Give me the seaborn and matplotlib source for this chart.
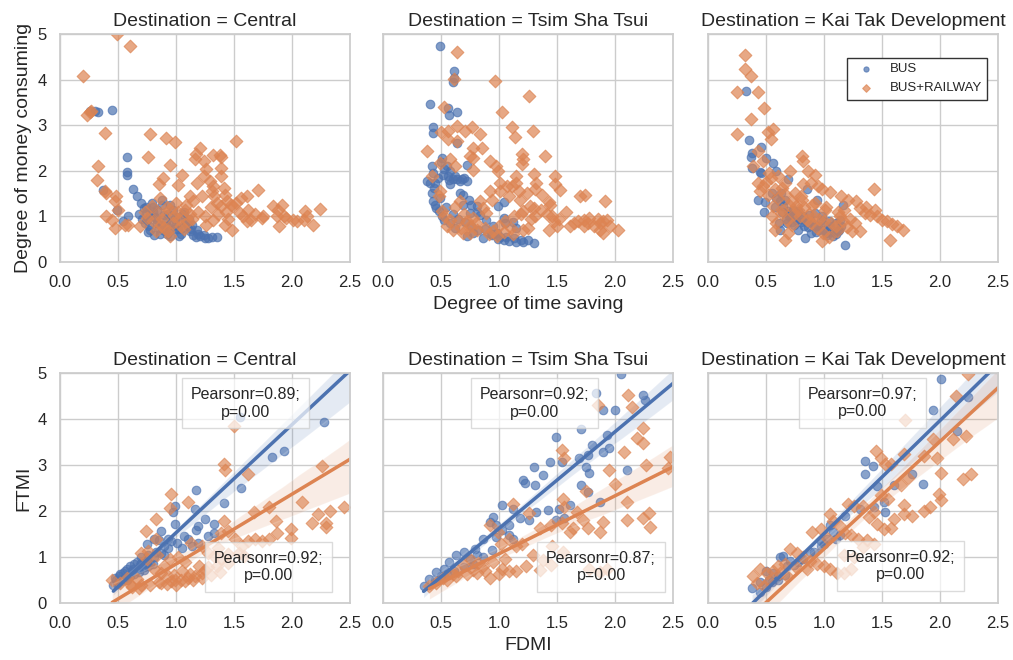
import numpy as np
import pandas as pd
import matplotlib.pyplot as plt
import seaborn as sns

sns.set_theme(style="whitegrid")
plt.rcParams['font.family'] = ['Liberation Sans', 'DejaVu Sans']

destinations = ["Central", "Tsim Sha Tsui", "Kai Tak Development"]
modes = ["BUS", "BUS+RAILWAY"]
pearson_labels = [["Pearsonr=0.89;\np=0.00", "Pearsonr=0.92;\np=0.00"],
                  ["Pearsonr=0.92;\np=0.00", "Pearsonr=0.87;\np=0.00"],
                  ["Pearsonr=0.97;\np=0.00", "Pearsonr=0.92;\np=0.00"]]

# ---- top row: degree of time saving (x) vs degree of money consuming (y)
central_bus_time = [0.26, 0.30, 0.33, 0.445, 0.58, 0.58, 0.58, 0.37, 0.63, 0.66, 0.59, 0.546, 0.49,
                    0.70, 0.72, 0.74, 0.75, 0.77, 0.78, 0.80, 0.82, 0.84, 0.85, 0.86, 0.88, 0.90, 0.91,
                    0.92, 0.94, 0.95, 0.97, 0.99, 1.00, 1.02, 1.04, 1.06, 1.08, 1.10, 1.12, 1.15, 1.17,
                    1.21, 1.25, 1.28, 1.31, 1.35, 1.19, 1.24, 0.88, 0.80, 0.68, 0.73,
                    0.74, 0.78, 0.83, 0.87, 0.93, 0.96, 1.01, 1.05, 1.09, 1.13, 0.76, 0.81, 0.89, 0.98,
                    1.03, 0.71, 0.84, 0.92, 1.07, 1.11, 1.14, 1.18, 0.79, 0.95]
central_bus_money = [3.31, 3.31, 3.29, 3.34, 2.31, 1.97, 1.90, 1.58, 1.61, 1.45, 1.0, 0.9, 1.15,
                     1.30, 1.18, 1.05, 0.92, 0.80, 0.70, 1.10, 0.98, 0.86, 0.75, 0.62, 1.25, 1.02, 0.90,
                     0.78, 0.68, 0.58, 1.15, 0.95, 0.82, 0.72, 0.62, 1.05, 0.90, 0.78, 0.68, 0.60, 0.55,
                     0.56, 0.52, 0.53, 0.54, 0.55, 0.62, 0.60, 1.35, 1.20, 1.05, 0.85,
                     1.20, 1.02, 0.95, 0.82, 1.05, 0.88, 0.98, 0.75, 0.85, 0.72, 0.65, 0.60, 0.70, 0.72,
                     0.58, 0.95, 1.15, 0.62, 1.10, 0.95, 0.82, 0.70, 1.30, 1.25]
central_rail_time = [0.49, 0.60, 0.195, 0.23, 0.26, 0.27, 0.39, 0.33, 0.32, 0.39, 0.40, 0.48, 0.47, 0.50,
                     0.40, 0.45, 0.47, 0.56, 0.59, 0.78, 0.91, 0.99, 0.76, 0.95, 1.21, 1.17, 1.16, 1.32,
                     1.38, 1.39, 1.52, 1.24, 1.26, 1.24, 1.39, 1.39, 1.05, 0.885, 0.85, 1.02, 1.18, 1.29,
                     1.32, 1.31, 1.41, 1.42, 1.44, 1.47, 1.61, 1.71, 1.12, 1.15, 1.09, 1.22, 1.35, 1.39,
                     1.49, 1.55, 1.58, 1.65, 1.61, 1.75, 1.74, 1.84, 1.88, 1.91, 1.87, 1.93, 1.95, 1.89,
                     2.01, 2.04, 2.10, 2.13, 2.11, 2.18, 2.24, 1.48, 1.42, 1.26, 1.32, 0.95, 0.93, 0.83,
                     0.69, 0.75, 0.79, 0.86, 0.92, 0.98, 1.04, 1.10, 1.02, 0.88, 1.00, 1.08,
                     0.80, 0.85, 0.90, 0.97, 1.03, 1.07, 1.12, 0.73, 0.87, 0.94, 1.14, 1.19, 1.25, 1.30,
                     1.36, 1.43, 1.52, 1.56, 1.62, 1.68, 1.45, 1.33]
central_rail_money = [5.0, 4.73, 4.07, 3.22, 3.28, 3.31, 2.82, 2.11, 1.80, 1.56, 1.52, 1.45, 1.34, 1.15,
                      1.0, 0.93, 0.75, 0.82, 0.82, 2.80, 2.73, 2.63, 2.30, 2.13, 2.51, 2.36, 2.25, 2.34,
                      2.34, 2.31, 2.66, 2.22, 2.03, 1.89, 2.07, 1.89, 1.90, 1.85, 1.72, 1.69, 1.74, 1.78,
                      1.67, 1.56, 1.63, 1.48, 1.34, 1.26, 1.45, 1.58, 1.45, 1.34, 1.26, 1.45, 1.30, 1.23,
                      1.23, 1.08, 1.0, 0.93, 0.90, 1.0, 0.97, 1.23, 1.15, 1.26, 1.0, 1.0, 0.97, 0.79,
                      0.93, 0.90, 0.93, 1.0, 1.12, 0.82, 1.17, 0.71, 0.82, 0.82, 0.93, 0.56, 0.67, 0.67,
                      0.79, 0.97, 1.23, 1.40, 1.20, 1.00, 0.80, 0.90, 1.10, 0.95, 1.30, 1.15,
                      0.90, 1.08, 0.75, 0.85, 0.95, 0.72, 1.05, 1.10, 0.82, 1.15, 0.95, 1.10, 1.00, 1.20,
                      1.05, 1.10, 1.30, 1.40, 1.15, 1.05, 0.95, 1.45]

tst_bus_time = [0.49, 0.61, 0.60, 0.61, 0.405, 0.56, 0.57, 0.64, 0.43, 0.43, 0.64, 0.51, 0.50, 0.42, 0.43,
                0.55, 0.58, 0.56, 0.60, 0.64, 0.68, 0.72, 0.72, 0.38, 0.405, 0.45, 0.42, 0.43, 0.45, 0.46,
                0.48, 0.51, 0.53, 0.58, 0.62, 0.66, 0.69, 0.74, 0.76, 0.81, 0.84, 0.89, 0.95, 0.98, 1.01,
                1.04, 1.09, 1.15, 1.21, 1.25, 1.30, 1.04, 1.05, 1.12, 1.15, 0.72, 0.78, 0.86, 0.94, 0.69,
                0.75, 0.81, 1.04, 0.99,
                0.47, 0.52, 0.57, 0.62, 0.66, 0.70, 0.44, 0.49, 0.54, 0.60, 0.65, 0.71, 0.76, 0.82,
                0.88, 0.93, 0.99, 1.06, 1.13, 1.19, 0.53, 0.58]
tst_bus_money = [4.74, 4.19, 3.95, 4.03, 3.46, 3.37, 3.22, 3.29, 2.95, 2.82, 2.60, 2.29, 2.19, 2.11, 1.95,
                 2.11, 2.0, 1.89, 1.83, 1.82, 1.83, 2.12, 1.78, 1.78, 1.74, 1.74, 1.52, 1.34, 1.26, 1.19,
                 1.12, 1.0, 0.93, 0.85, 0.75, 1.52, 1.48, 1.37, 1.26, 1.10, 1.04, 0.93, 0.79, 0.64, 0.55,
                 0.49, 0.46, 0.44, 0.44, 0.49, 0.41, 0.97, 0.86, 0.88, 0.75, 0.57, 0.64, 0.53, 0.60, 1.26,
                 1.08, 1.23, 1.31, 1.23,
                 1.85, 1.90, 1.80, 1.88, 1.78, 1.85, 1.62, 1.40, 1.20, 1.05, 0.95, 0.88, 0.80, 0.70,
                 0.72, 0.62, 0.50, 0.55, 0.52, 0.48, 2.05, 1.72]
tst_rail_time = [0.635, 0.61, 0.965, 1.26, 0.53, 1.03, 1.11, 1.29, 1.14, 0.50, 0.56, 0.64, 0.71, 0.77,
                 0.84, 0.56, 0.64, 0.38, 0.78, 0.85, 0.75, 0.78, 1.20, 1.21, 1.20, 1.40, 0.92, 0.97, 0.99,
                 0.78, 0.49, 0.58, 0.62, 1.15, 1.30, 1.48, 1.01, 1.07, 1.11, 1.15, 1.32, 1.31, 1.48, 1.53,
                 0.92, 1.01, 1.09, 1.18, 1.24, 1.17, 1.37, 1.43, 1.44, 1.70, 1.74, 1.91, 1.30, 1.31, 1.46,
                 1.47, 1.50, 1.43, 1.61, 1.68, 1.73, 1.77, 1.78, 1.73, 1.87, 1.90, 1.93, 1.87, 1.90, 1.96,
                 2.03, 1.27, 1.21, 0.84, 0.86, 0.89, 0.78, 0.75, 0.81, 0.75, 0.69, 0.98, 0.91, 1.04, 1.10,
                 1.12, 1.21, 1.25, 0.49, 0.48, 0.51, 0.53, 0.58, 0.65, 0.66, 0.42,
                 0.55, 0.60, 0.67, 0.72, 0.80, 0.88, 0.95, 1.00, 1.05, 1.13, 1.19, 1.28, 1.36, 1.41,
                 1.52, 1.58, 1.65, 1.82, 1.85, 0.70, 0.62, 0.94]
tst_rail_money = [4.60, 4.01, 3.96, 3.63, 3.39, 3.28, 2.95, 2.88, 2.75, 2.84, 2.88, 2.99, 2.88, 2.95,
                  2.80, 2.69, 2.66, 2.44, 2.51, 2.51, 2.33, 2.29, 2.36, 2.25, 2.14, 2.33, 2.22, 2.11, 2.0,
                  2.02, 2.18, 2.25, 2.11, 1.89, 1.92, 1.89, 1.74, 1.67, 1.67, 1.74, 1.74, 1.59, 1.70, 1.58,
                  1.56, 1.56, 1.45, 1.37, 1.52, 1.56, 1.48, 1.31, 1.26, 1.45, 1.48, 1.34, 1.19, 1.0, 1.0,
                  0.9, 0.79, 0.71, 0.80, 0.90, 0.93, 0.86, 0.97, 0.79, 0.86, 0.90, 0.93, 0.71, 0.64, 0.79,
                  0.71, 1.23, 1.12, 1.34, 1.19, 1.08, 0.97, 0.79, 0.71, 0.64, 0.64, 0.58, 0.62, 0.66, 0.75,
                  0.62, 0.70, 0.75, 1.56, 1.45, 1.12, 1.0, 0.93, 0.90, 1.34, 1.89,
                  0.80, 0.70, 0.75, 0.90, 0.85, 0.75, 0.68, 0.80, 0.90, 1.00, 1.05, 0.95, 1.15, 1.05,
                  0.95, 1.10, 0.85, 0.80, 0.95, 1.05, 1.20, 1.35]

kt_bus_time = [0.33, 0.35, 0.375, 0.37, 0.46, 0.50, 0.375, 0.45, 0.46, 0.56, 0.59, 0.69, 0.43, 0.49, 0.48,
               0.65, 0.69, 0.73, 0.78, 0.76, 0.82, 0.88, 0.92, 0.89, 0.78, 0.84, 0.85, 0.94, 1.02, 1.08,
               1.12, 1.15, 1.16, 1.14, 1.18, 0.62, 0.68, 0.61, 0.92, 0.98, 1.00, 1.04, 1.05, 1.10, 0.55,
               0.59, 0.62, 0.66, 0.63, 0.70, 0.74, 0.80, 0.96, 1.06, 0.86,
               0.64, 0.70, 0.75, 0.80, 0.85, 0.90, 0.95, 1.00, 1.05, 1.10, 0.67, 0.72, 0.83, 0.93,
               1.03, 1.13, 0.58, 0.77, 0.87, 0.97]
kt_bus_money = [3.75, 2.68, 2.40, 2.31, 2.53, 2.29, 2.07, 1.97, 1.96, 2.18, 2.0, 1.83, 1.37, 1.31, 1.10,
                1.23, 1.12, 1.15, 1.12, 0.93, 1.0, 0.93, 0.79, 0.64, 0.71, 0.53, 1.59, 1.37, 0.64, 0.58,
                0.67, 0.79, 1.26, 0.93, 0.38, 0.71, 0.85, 0.85, 1.08, 1.00, 0.82, 0.90, 0.78, 0.85, 1.52,
                1.41, 1.34, 1.37, 1.52, 1.00, 0.82, 0.88, 0.70, 0.66, 0.76,
                1.10, 1.05, 0.98, 0.95, 0.88, 0.85, 0.78, 0.70, 0.72, 0.62, 0.95, 0.88, 0.78, 0.65,
                0.60, 0.70, 1.20, 1.08, 1.02, 0.92]
kt_rail_time = [0.32, 0.32, 0.37, 0.25, 0.43, 0.48, 0.37, 0.25, 0.52, 0.56, 0.54, 0.43, 0.475, 0.39, 0.81,
                0.82, 0.71, 0.86, 0.92, 0.53, 0.605, 0.66, 0.635, 0.43, 0.45, 0.52, 0.475, 0.82, 0.89, 0.95,
                0.98, 1.05, 1.43, 1.15, 1.21, 1.28, 0.75, 0.72, 0.81, 1.31, 1.35, 1.40, 1.46, 1.50, 1.54,
                1.59, 1.63, 1.68, 1.57, 0.56, 0.55, 0.59, 0.58, 0.66, 0.69, 0.76, 0.79, 0.85, 0.89, 0.94,
                0.99, 0.98, 1.04, 1.11, 1.20, 1.24, 1.31, 1.27, 1.14, 1.17, 0.68, 0.72, 0.63, 1.01, 0.90,
                0.60, 0.64, 0.70, 0.74, 0.78, 0.83, 0.87, 0.91, 0.96, 1.00, 1.06, 1.10, 1.16, 1.22,
                0.58, 0.66, 0.80, 0.92, 1.02, 1.12, 1.36, 1.44, 0.50, 0.54]
kt_rail_money = [4.54, 4.23, 4.08, 3.73, 3.73, 3.37, 3.13, 2.80, 2.84, 2.91, 2.69, 2.44, 2.22, 2.11, 2.33,
                 2.22, 2.0, 2.0, 1.90, 1.96, 1.89, 1.74, 1.63, 1.74, 1.56, 1.48, 1.67, 1.70, 1.74, 1.67,
                 1.59, 1.53, 1.61, 1.45, 1.37, 1.34, 1.52, 1.34, 1.37, 1.19, 1.08, 1.04, 1.0, 0.93, 0.89,
                 0.84, 0.79, 0.71, 0.49, 1.23, 1.0, 0.85, 0.71, 0.49, 0.64, 1.23, 1.0, 0.93, 0.85, 0.75,
                 0.64, 0.45, 0.55, 0.69, 0.76, 0.69, 0.67, 0.85, 1.0, 1.15, 0.93, 0.82, 1.08, 1.15, 1.25,
                 1.40, 1.15, 1.25, 1.05, 1.15, 1.20, 1.05, 1.00, 0.95, 0.90, 0.85, 0.80, 0.90, 0.95,
                 1.60, 1.50, 1.45, 1.30, 1.20, 1.10, 1.20, 1.15, 1.75, 1.85]

# ---- bottom row: FDMI (x) vs FTMI (y); the last few points of a series sit outside the
# visible window (the fitted lines run on to the axes edge in the original)
central_bus_fdmi = [2.28, 1.93, 1.83, 1.56, 1.41, 1.17, 0.99, 0.97, 1.16, 1.25, 1.33, 1.19, 1.17, 1.33, 1.28,
                    0.99, 0.87, 0.81, 0.75, 1.07, 1.01, 0.93, 0.87, 0.81, 0.75, 0.70, 0.64, 0.58, 0.54, 0.51,
                    0.48, 1.55, 0.55, 0.61, 0.67, 0.72, 0.78, 1.10, 1.14, 1.19, 0.60, 0.66, 0.70, 0.76, 0.83,
                    0.90, 0.96, 0.93, 0.85, 0.50, 0.46, 0.62, 1.05, 0.90,
                    0.49, 0.53, 0.57, 0.60, 0.64, 0.68, 0.72, 0.76, 0.80, 0.52, 0.56, 0.63, 0.69, 0.74,
                    0.47, 0.58, 2.60, 2.80, 3.00]
central_bus_ftmi = [3.93, 3.31, 3.17, 2.50, 2.17, 2.46, 2.11, 1.97, 2.04, 1.82, 1.71, 1.68, 1.59, 1.53, 1.46,
                    1.71, 1.57, 1.39, 1.28, 1.46, 1.31, 1.20, 1.09, 0.99, 0.91, 0.88, 0.84, 0.73, 0.66, 0.58,
                    0.51, 4.04, 0.55, 0.65, 0.75, 0.78, 0.85, 1.39, 1.24, 1.31, 0.80, 0.90, 1.00, 1.05, 1.10,
                    1.25, 1.35, 1.40, 1.38, 0.45, 0.40, 0.70, 1.20, 1.05,
                    0.42, 0.48, 0.55, 0.58, 0.62, 0.68, 0.72, 0.80, 0.85, 0.62, 0.70, 0.75, 0.82, 0.88,
                    0.55, 0.50, 5.80, 6.40, 6.90]
central_rail_fdmi = [1.50, 1.41, 1.42, 1.62, 2.26, 0.96, 0.95, 1.10, 0.83, 0.74, 0.83, 1.41, 1.67, 1.80, 2.09,
                     2.22, 2.17, 2.29, 2.29, 2.33, 2.45, 1.86, 1.87, 1.99, 1.99, 1.51, 1.57, 1.62, 1.68, 1.74,
                     1.80, 1.45, 1.39, 1.13, 1.22, 1.28, 1.33, 1.39, 1.45, 0.70, 0.75, 0.81, 0.87, 0.93, 0.99,
                     1.04, 1.10, 1.16, 1.22, 0.45, 0.52, 0.61, 0.70, 0.78, 0.87, 0.96, 1.54, 1.59, 1.45, 1.36,
                     0.76, 0.84, 0.95, 1.02, 1.08, 1.20, 1.28, 1.35, 0.58, 0.66, 0.90, 1.05,
                     0.85, 0.92, 1.00, 1.08, 1.15, 1.22, 1.30, 1.38, 0.98, 1.12, 1.25, 0.62, 0.68,
                     2.70, 3.00, 3.30, 3.60]
central_rail_ftmi = [3.84, 3.02, 2.90, 2.80, 2.97, 2.37, 2.06, 2.20, 1.82, 1.57, 1.39, 1.79, 1.97, 2.08, 2.19,
                     1.93, 1.75, 1.75, 1.66, 2.0, 2.08, 1.79, 1.53, 1.60, 1.42, 1.39, 1.24, 1.35, 1.39, 1.35,
                     1.39, 1.57, 1.53, 1.31, 1.24, 1.09, 1.02, 0.95, 0.88, 1.09, 0.95, 0.73, 0.66, 0.58, 0.51,
                     0.51, 0.55, 0.58, 0.66, 0.51, 0.44, 0.40, 0.40, 0.40, 0.44, 0.47, 1.09, 1.02, 1.06, 1.20,
                     1.12, 1.05, 0.95, 1.00, 0.90, 0.80, 0.78, 0.80, 0.55, 0.52, 0.80, 0.70,
                     0.45, 0.42, 0.40, 0.48, 0.50, 0.55, 0.60, 0.68, 0.60, 0.62, 0.72, 0.35, 0.32,
                     4.60, 5.40, 6.00, 6.70]

tst_bus_fdmi = [2.05, 1.84, 1.90, 2.0, 2.24, 2.26, 1.71, 1.49, 1.93, 1.80, 1.90, 1.95, 1.77, 1.69, 1.75, 1.78,
                1.71, 2.10, 1.54, 1.44, 1.30, 1.38, 1.21, 1.22, 1.31, 1.03, 1.12, 0.95, 1.18, 1.26, 1.32,
                1.42, 1.52, 0.92, 0.97, 1.09, 1.03, 1.09, 1.12, 0.97, 0.86, 0.79, 0.70, 0.63, 0.57, 0.53,
                0.46, 0.40, 0.35, 0.94, 0.86, 0.78, 0.70, 0.61, 0.55, 0.75, 0.81, 1.61, 1.56, 1.49, 1.87,
                1.77, 0.45, 0.50, 2.62, 2.80]
tst_bus_ftmi = [4.98, 4.56, 4.20, 4.20, 4.53, 4.42, 3.79, 3.60, 3.65, 3.44, 3.29, 3.36, 3.22, 3.15, 2.96, 2.82,
                2.56, 2.89, 3.07, 3.07, 2.96, 2.78, 2.67, 2.60, 2.56, 2.13, 2.05, 1.87, 1.84, 1.80, 1.98,
                2.02, 2.05, 1.76, 1.69, 1.69, 1.58, 1.47, 1.40, 1.44, 1.40, 1.18, 1.11, 1.04, 0.89, 0.75,
                0.67, 0.53, 0.38, 1.15, 1.00, 0.85, 0.78, 0.70, 0.62, 0.95, 1.05, 2.13, 1.84, 1.80, 2.20,
                2.42, 0.50, 0.58, 5.10, 5.70]
tst_rail_fdmi = [1.85, 2.11, 2.15, 2.24, 2.19, 2.24, 2.08, 2.27, 2.47, 2.46, 1.95, 2.0, 2.10, 2.29, 2.10, 2.24,
                 2.30, 1.90, 1.87, 1.54, 1.56, 1.75, 1.55, 1.56, 1.67, 1.72, 1.77, 1.64, 1.12, 1.26, 1.35,
                 1.45, 1.54, 1.61, 0.92, 0.99, 1.02, 1.09, 1.15, 1.20, 1.29, 1.38, 1.45, 1.35, 0.40, 0.46,
                 0.55, 0.63, 0.72, 0.81, 0.86, 0.75, 0.82, 0.69, 0.60, 0.52, 0.92, 1.00, 1.03, 1.09, 1.15,
                 1.23, 1.78, 1.87, 1.93, 1.46, 1.55, 0.95, 1.05, 0.65, 0.78, 0.88, 2.60, 2.75]
tst_rail_ftmi = [4.31, 4.53, 4.27, 3.80, 3.58, 3.47, 3.29, 3.0, 3.17, 2.94, 2.89, 2.58, 2.20, 1.95, 1.80, 1.84,
                 1.65, 1.76, 1.55, 3.33, 3.15, 2.43, 2.27, 2.09, 1.98, 1.80, 1.62, 1.62, 2.16, 1.95, 1.62,
                 1.69, 1.73, 1.55, 1.69, 1.55, 1.29, 1.40, 1.25, 1.29, 1.04, 0.93, 0.82, 0.71, 0.36, 0.44,
                 0.51, 0.58, 0.62, 0.66, 0.80, 0.95, 0.88, 0.85, 0.62, 0.55, 0.55, 0.62, 0.75, 0.69, 0.69,
                 0.80, 0.75, 0.67, 0.75, 1.25, 1.11, 0.90, 0.95, 0.70, 0.72, 0.70, 2.10, 2.20]

kt_bus_fdmi = [2.01, 1.94, 2.24, 2.15, 1.35, 1.42, 1.35, 1.60, 1.76, 1.85, 1.46, 1.18, 1.31, 1.43, 1.52, 1.53,
               1.05, 1.14, 1.03, 0.97, 0.91, 0.82, 0.74, 0.65, 0.62, 0.71, 0.56, 0.38, 0.97, 1.08, 0.88,
               0.80, 0.60, 0.53, 0.50, 0.68, 0.78, 1.00, 1.10, 0.45,
               0.45, 0.50, 0.55, 0.60, 0.66, 2.60, 2.80]
kt_bus_ftmi = [4.88, 4.20, 4.47, 3.75, 3.08, 2.98, 2.80, 2.57, 2.80, 2.58, 2.55, 1.90, 2.04, 2.08, 2.19, 1.97,
               1.69, 1.47, 1.40, 1.25, 1.11, 0.96, 0.82, 1.02, 0.99, 0.91, 0.66, 0.33, 1.35, 1.55, 1.10,
               0.95, 0.58, 0.50, 0.70, 0.80, 0.90, 1.28, 1.40, 0.45,
               0.25, 0.35, 0.45, 0.50, 0.60, 6.20, 6.80]
kt_rail_fdmi = [1.70, 1.94, 2.11, 2.22, 1.45, 1.49, 1.53, 1.58, 1.69, 1.97, 1.86, 2.01, 2.20, 2.27, 1.99, 2.01,
                1.91, 1.86, 1.76, 1.72, 1.66, 1.69, 1.55, 1.49, 1.43, 1.60, 1.58, 1.69, 1.21, 1.26, 1.34,
                1.39, 1.46, 1.52, 1.05, 1.08, 1.14, 1.18, 1.23, 1.29, 0.90, 0.97, 1.03, 0.71, 0.77, 0.82,
                0.88, 0.94, 1.0, 1.05, 1.11, 1.17, 1.23, 0.45, 0.51, 0.56, 0.62, 0.68, 0.42, 0.48, 0.53,
                0.39, 1.17, 1.26, 1.34, 1.37, 1.43, 0.60, 0.66, 0.75, 0.85, 2.14, 2.24,
                2.60, 2.80, 3.00, 3.30, 3.60]
kt_rail_ftmi = [3.98, 3.57, 3.57, 3.63, 3.31, 3.16, 3.02, 3.02, 3.24, 3.16, 3.20, 2.82, 2.69, 2.80, 2.38, 2.25,
                2.09, 2.0, 1.89, 2.71, 2.56, 2.13, 2.27, 2.35, 1.97, 1.83, 1.64, 1.93, 2.16, 2.11, 2.11,
                1.86, 1.71, 1.60, 1.93, 1.78, 1.67, 1.53, 1.47, 1.39, 1.55, 1.60, 1.42, 1.17, 1.09, 0.99,
                0.91, 0.85, 0.80, 0.73, 0.66, 0.66, 0.73, 0.73, 0.66, 0.69, 0.66, 0.58, 0.44, 0.37, 0.48,
                0.58, 1.04, 1.0, 1.22, 1.36, 1.29, 0.80, 0.85, 0.80, 0.75, 4.50, 4.98,
                6.00, 6.60, 7.20, 7.90, 8.70]

top_data = {
    "Central": [(central_bus_time, central_bus_money), (central_rail_time, central_rail_money)],
    "Tsim Sha Tsui": [(tst_bus_time, tst_bus_money), (tst_rail_time, tst_rail_money)],
    "Kai Tak Development": [(kt_bus_time, kt_bus_money), (kt_rail_time, kt_rail_money)],
}
bottom_data = {
    "Central": [(central_bus_fdmi, central_bus_ftmi), (central_rail_fdmi, central_rail_ftmi)],
    "Tsim Sha Tsui": [(tst_bus_fdmi, tst_bus_ftmi), (tst_rail_fdmi, tst_rail_ftmi)],
    "Kai Tak Development": [(kt_bus_fdmi, kt_bus_ftmi), (kt_rail_fdmi, kt_rail_ftmi)],
}

# annotation box centres (data coords) for [BUS, BUS+RAILWAY]
box_pos = [[(1.60, 4.34), (1.80, 0.78)],
           [(1.31, 4.34), (1.88, 0.78)],
           [(1.33, 4.35), (1.66, 0.80)]]

colors = sns.color_palette("deep")[:2]
markers = ["o", "D"]
sizes = [38, 42]
text_c = "#262626"

fig = plt.figure(figsize=(10.13, 6.6), dpi=100)
lefts = [60 / 1013, 383 / 1013, 708 / 1013]
w = 290 / 1013
top_ax = [fig.add_axes([l, 1 - 262 / 660, w, 228 / 660]) for l in lefts]
bot_ax = [fig.add_axes([l, 1 - 603 / 660, w, 230 / 660]) for l in lefts]

for i, dest in enumerate(destinations):
    ax = top_ax[i]
    for j, mode in enumerate(modes):
        xs, ys = top_data[dest][j]
        sns.scatterplot(x=xs, y=ys, ax=ax, color=colors[j], marker=markers[j], s=sizes[j],
                        alpha=0.7, edgecolor=colors[j], linewidth=0.8, label=mode)
    ax.set_title(f"Destination = {dest}", fontsize=14, color=text_c)

    ax = bot_ax[i]
    for j, mode in enumerate(modes):
        xs, ys = bottom_data[dest][j]
        sns.regplot(x=np.array(xs), y=np.array(ys), ax=ax, color=colors[j], marker=markers[j],
                    scatter_kws={"s": sizes[j], "alpha": 0.65, "edgecolor": colors[j], "linewidths": 0.8},
                    line_kws={"lw": 2.5})
        bx, by = box_pos[i][j]
        ax.text(bx, by, pearson_labels[i][j], ha="center", va="center", multialignment="center",
                fontsize=11.5, color=text_c,
                bbox=dict(boxstyle="square,pad=0.55", fc="white", ec="#cccccc", alpha=0.7))
    ax.set_title(f"Destination = {dest}", fontsize=14, color=text_c)

for k, ax in enumerate(top_ax + bot_ax):
    ax.set_xlim(0, 2.5)
    ax.set_ylim(0, 5)
    ax.set_xticks([0.0, 0.5, 1.0, 1.5, 2.0, 2.5])
    ax.set_yticks([0, 1, 2, 3, 4, 5])
    ax.tick_params(labelsize=12, colors=text_c)
    ax.set_xlabel("")
    ax.set_ylabel("")
    if k % 3 != 0:
        ax.tick_params(labelleft=False)
    for sp in ax.spines.values():
        sp.set_color("#cccccc")
    if ax.get_legend() is not None:
        ax.get_legend().remove()

top_ax[0].set_ylabel("Degree of money consuming", fontsize=14, color=text_c)
top_ax[1].set_xlabel("Degree of time saving", fontsize=14, color=text_c)
bot_ax[0].set_ylabel("FTMI", fontsize=14, color=text_c)
bot_ax[1].set_xlabel("FDMI", fontsize=14, color=text_c)

handles, labels = top_ax[2].get_legend_handles_labels()
leg = top_ax[2].legend(handles, labels, loc="upper right", bbox_to_anchor=(0.962, 0.895),
                       borderaxespad=0, fontsize=9.5, frameon=True, fancybox=False,
                       markerscale=0.6, framealpha=1)
leg.get_frame().set_edgecolor("#333333")
for t in leg.get_texts():
    t.set_color(text_c)

plt.savefig("out.png", dpi=100)
